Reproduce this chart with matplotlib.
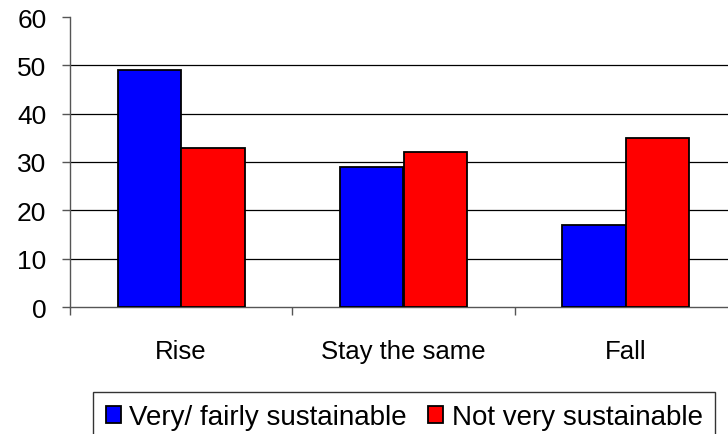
import numpy as np
import matplotlib.pyplot as plt

plt.rcParams['font.family'] = ['Liberation Sans', 'DejaVu Sans']

categories = ['Rise', 'Stay the same', 'Fall']
sustainable = [49, 29, 17]
not_sustainable = [33, 32, 35]
series_names = ['Very/ fairly sustainable', 'Not very sustainable']
yticks = [0, 10, 20, 30, 40, 50, 60]

W, H = 728, 435
fig = plt.figure(figsize=(W / 100, H / 100), dpi=100)
# plot area runs a little past the right edge of the figure
ax = fig.add_axes([70 / W, 1 - 308 / H, (737 - 70) / W, (308 - 18) / H])

x = np.arange(len(categories))
bw = 0.286
ax.bar(x - bw / 2, sustainable, bw, color='#0000ff', edgecolor='black',
       linewidth=1.3, label=series_names[0], zorder=3)
ax.bar(x + bw / 2, not_sustainable, bw, color='#ff0000', edgecolor='black',
       linewidth=1.3, label=series_names[1], zorder=3)

ax.set_xlim(-0.5, len(categories) - 0.5)
ax.set_ylim(0, 60)

for v in yticks[1:-1]:
    ax.axhline(v, color='black', lw=0.9, zorder=1)

for s in ['top', 'right']:
    ax.spines[s].set_visible(False)
ax.spines['left'].set_color('#555555')
ax.spines['bottom'].set_color('#555555')
ax.spines['left'].set_linewidth(1.0)
ax.spines['bottom'].set_linewidth(1.0)

ax.set_yticks(yticks)
ax.tick_params(axis='y', length=6, width=1.0, color='#555555', pad=11,
               labelsize=19)
ax.set_xticks(np.arange(len(categories) + 1) - 0.5)
ax.set_xticklabels([])
ax.tick_params(axis='x', which='major', length=6, width=1.0, color='#555555')
ax.set_xticks(x, minor=True)
ax.set_xticklabels(categories, minor=True)
ax.tick_params(axis='x', which='minor', length=0, pad=23, labelsize=18.5)

leg = fig.legend(loc='upper left', bbox_to_anchor=(93 / W, 1 - 393 / H),
                 ncol=2, fontsize=20, frameon=True, fancybox=False,
                 edgecolor='black', handlelength=0.54, handleheight=0.54,
                 handletextpad=0.32, columnspacing=0.75, borderpad=0.45,
                 borderaxespad=0)
leg.get_frame().set_linewidth(1.0)

fig.savefig('out.png', dpi=100)
